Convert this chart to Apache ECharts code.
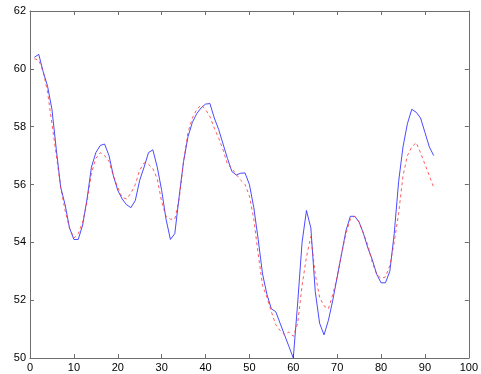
<!DOCTYPE html>
<html>
<head>
<meta charset="utf-8">
<script src="https://cdn.jsdelivr.net/npm/echarts@6/dist/echarts.min.js"></script>
<style>
  html, body { margin: 0; padding: 0; background: #fff; }
  #chart { width: 481px; height: 374px; }
</style>
</head>
<body>
<div id="chart"></div>
<script>
// samples 1..92
var blueValues = [
  60.4, 60.5, 59.9, 59.4, 58.6, 57.2, 55.9, 55.3, 54.5, 54.1,
  54.1, 54.6, 55.5, 56.6, 57.1, 57.35, 57.4, 57.0, 56.3, 55.8,
  55.5, 55.3, 55.2, 55.45, 56.15, 56.6, 57.1, 57.2, 56.6, 55.8,
  54.8, 54.1, 54.3, 55.6, 56.8, 57.65, 58.15, 58.45, 58.65, 58.78,
  58.8, 58.3, 57.9, 57.4, 56.9, 56.45, 56.33, 56.39, 56.4, 56.0,
  55.2, 54.1, 52.9, 52.2, 51.7, 51.6, 51.2, 50.8, 50.4, 50.0,
  51.9, 54.0, 55.1, 54.5, 52.3, 51.2, 50.8, 51.3, 52.0, 52.8,
  53.6, 54.4, 54.9, 54.9, 54.7, 54.3, 53.8, 53.4, 52.9, 52.6,
  52.6, 53.0, 54.3, 56.1, 57.3, 58.1, 58.6, 58.5, 58.3, 57.8,
  57.3, 57.0
];
var redValues = [
  60.35, 60.3, 59.9, 59.2, 58.1, 57.0, 55.9, 55.1, 54.5, 54.15,
  54.3, 54.7, 55.4, 56.4, 56.9, 57.1, 57.0, 56.8, 56.3, 55.9,
  55.55, 55.5, 55.7, 56.0, 56.5, 56.75, 56.7, 56.55, 56.2, 55.4,
  54.9, 54.8, 54.8, 55.5, 56.8, 57.8, 58.3, 58.6, 58.75, 58.6,
  58.35, 57.95, 57.6, 57.2, 56.7, 56.55, 56.35, 56.15, 56.0, 55.6,
  54.8, 53.6, 52.5, 52.1, 51.6, 51.15, 50.95, 50.8, 50.9, 50.75,
  51.2, 52.5, 53.5, 54.2, 52.9, 52.1, 51.8, 51.7, 52.2, 52.8,
  53.6, 54.3, 54.8, 54.9, 54.7, 54.3, 53.9, 53.3, 52.9, 52.75,
  52.8, 53.2, 54.0, 55.0, 56.3, 57.0, 57.3, 57.45, 57.1, 56.7,
  56.3, 55.9
];
var xRange = [0, 100, 10];
var yRange = [50, 62, 2];

function toPoints(values) {
  return values.map(function(v, i) {
    return [i + 1, v];
  });
}

var axisColor = "#6e6e6e";
var labelFont = { color: "#000", fontFamily: "Liberation Sans", fontSize: 11 };

function xAxis(pos, showLabel) {
  return {
    type: "value",
    position: pos,
    min: xRange[0],
    max: xRange[1],
    interval: xRange[2],
    axisLine: { onZero: false, lineStyle: { color: axisColor, width: 1 } },
    axisTick: { inside: true, length: 4, lineStyle: { color: axisColor } },
    axisLabel: Object.assign({ show: showLabel, margin: 4 }, labelFont),
    splitLine: { show: false }
  };
}
function yAxis(pos, showLabel) {
  return {
    type: "value",
    position: pos,
    min: yRange[0],
    max: yRange[1],
    interval: yRange[2],
    axisLine: { onZero: false, lineStyle: { color: axisColor, width: 1 } },
    axisTick: { inside: true, length: 4, lineStyle: { color: axisColor } },
    axisLabel: Object.assign({ show: showLabel, margin: 4 }, labelFont),
    splitLine: { show: false }
  };
}

var chart = echarts.init(document.getElementById("chart"), null, { renderer: "canvas" });
chart.setOption({
  animation: false,
  backgroundColor: "#fff",
  grid: { left: 30, right: 12, top: 11, bottom: 16, containLabel: false },
  xAxis: [xAxis("bottom", true), xAxis("top", false)],
  yAxis: [yAxis("left", true), yAxis("right", false)],
  series: [
    {
      type: "line",
      data: toPoints(blueValues),
      showSymbol: false,
      lineStyle: { color: "#2b2bff", width: 1, opacity: 0.85 },
      itemStyle: { color: "#2b2bff" },
      clip: true
    },
    {
      type: "line",
      data: toPoints(redValues),
      showSymbol: false,
      lineStyle: { color: "#ff3333", width: 1, type: [3, 3], opacity: 0.8 },
      itemStyle: { color: "#ff3333" },
      clip: true
    }
  ]
});
</script>
</body>
</html>
